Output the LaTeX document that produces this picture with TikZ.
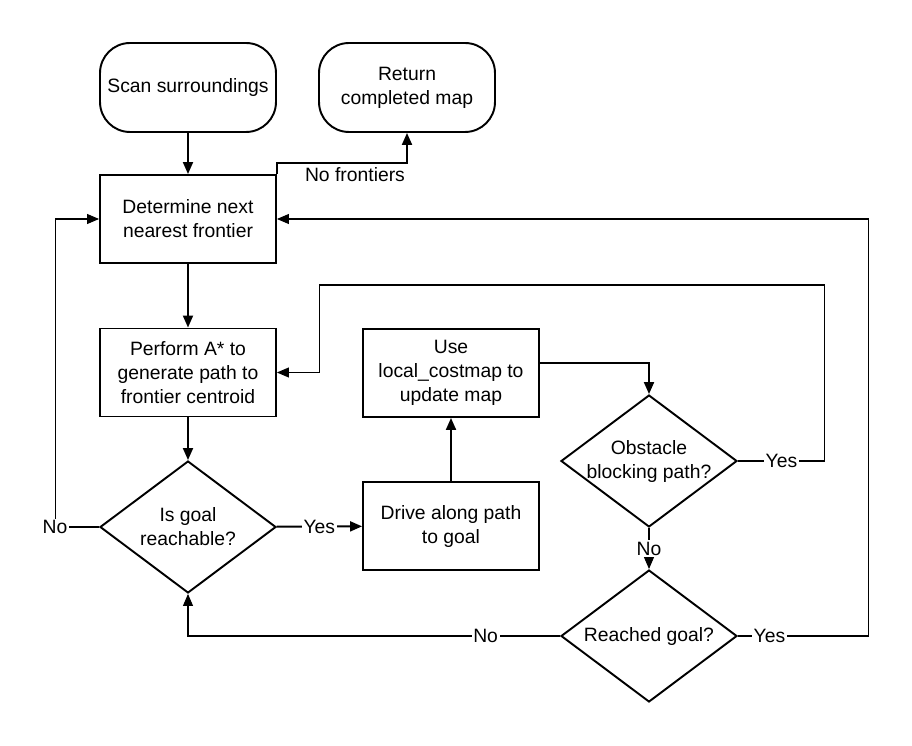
\documentclass[tikz,border=0pt]{standalone}
\usepackage{fontspec}
\setmainfont{Liberation Sans}
\usetikzlibrary{arrows.meta,shapes.geometric}

\begin{document}
\begin{tikzpicture}[
    font=\fontsize{11}{13.66}\selectfont,
      >={Triangle[length=0.24cm,width=0.2cm]},
      x=0.02cm, y=-0.02cm,
      terminal/.style={rectangle, rounded corners=0.6cm, draw, line width=1.1pt, align=center, minimum width=3.52cm, minimum height=1.78cm, inner sep=0pt},
      process/.style={rectangle, draw, line width=1.1pt, align=center, minimum width=3.52cm, minimum height=1.76cm, inner sep=0pt},
      decision/.style={diamond, draw, line width=1.1pt, align=center, minimum width=3.52cm, minimum height=2.64cm, inner xsep=-0.8cm, inner ysep=0pt},
      arrow/.style={->, line width=1.1pt},
      link/.style={->, line width=0.6pt},
      answer/.style={fill=white, inner sep=1pt}
    ]
      \useasboundingbox (0,0) rectangle (912,746);
      \node[terminal] (scan) at (188,87.5) {Scan surroundings};
      \node[terminal] (done) at (407,87.5) {Return\\completed map};
      \node[process] (nearest) at (188,219) {Determine next\\nearest frontier};
      \node[process] (astar) at (188,372.5) {Perform A* to\\generate path to\\frontier centroid};
      \node[process] (costmap) at (451,373) {Use\\local\_costmap to\\update map};
      \node[process] (drive) at (451,526) {Drive along path\\to goal};
      \node[decision] (reachable) at (188,527) {Is goal\\reachable?};
      \node[decision] (obstacle) at (649,461) {Obstacle\\blocking path?};
      \node[decision] (reached) at (649,636) {Reached goal?};

      \draw[arrow] (scan) -- (nearest);
      \draw[arrow] (nearest) -- (astar);
      \draw[arrow] (astar) -- (reachable);
      \draw[arrow] (drive) -- (costmap);
      \draw[arrow] (reachable) -- node[answer] {Yes} (drive);
      \draw[arrow] (nearest.north east) -- ++(0,-11) -| node[pos=0.3, below, inner sep=2pt] {No frontiers} (done);
      \draw[arrow] ([yshift=0.2cm]costmap.east) -| (obstacle);
      \draw[link] (obstacle) -- node[answer] {No} (reached);
      \draw[link] (obstacle.east) -- node[answer] {Yes} ++(87,0) |- ++(-505,-176) |- (astar.east);
      \draw[link] (reached.east) -- node[answer, pos=0.24] {Yes} ++(131,0) |- (nearest.east);
      \draw[link] (reached.west) -| node[answer, pos=0.1] {No} (reachable);
      \draw[link] (reachable.west) -- ++(-44,0) node[answer] {No} |- (nearest.west);
    \end{tikzpicture}
\end{document}
